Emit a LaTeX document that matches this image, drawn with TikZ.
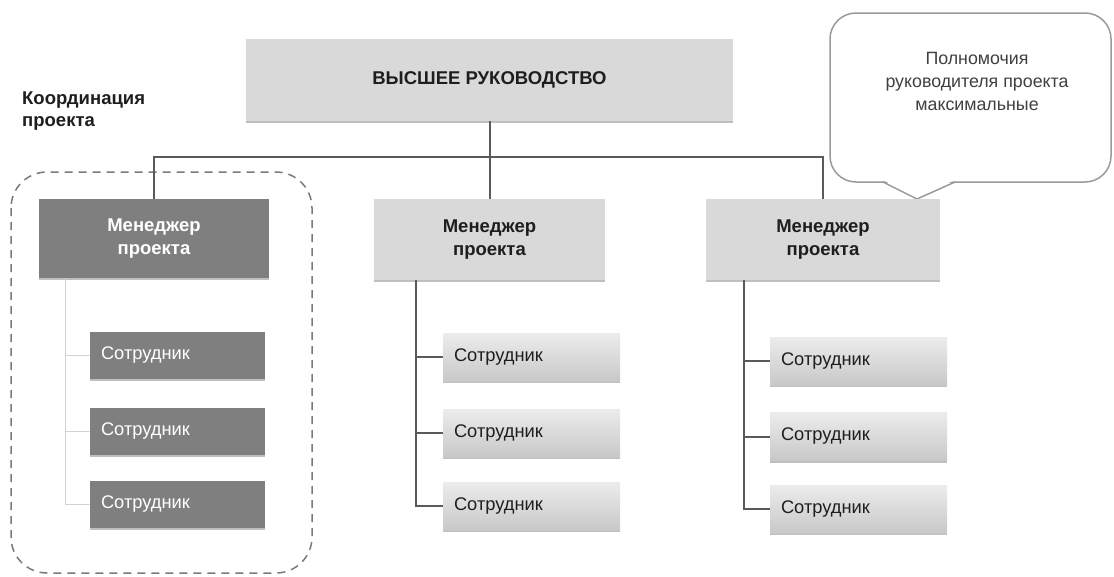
\documentclass[tikz,border=0pt]{standalone}
\usepackage{fontspec}
\setmainfont{Liberation Sans}
\usetikzlibrary{shadows}
\definecolor{boxgray}{HTML}{D9D9D9}
\definecolor{darkbox}{HTML}{7F7F7F}
\definecolor{linegray}{HTML}{5A5A5A}
\definecolor{lightline}{HTML}{D3D3D3}
\definecolor{txt}{HTML}{1E1E1E}
\definecolor{gradtop}{HTML}{ECECEC}
\definecolor{gradbot}{HTML}{C8C8C8}
\definecolor{dashgray}{HTML}{7A7A7A}
\definecolor{callgray}{HTML}{9A9A9A}
\begin{document}
\begin{tikzpicture}[x=1pt,y=-1pt,
  shadowed/.style={drop shadow={shadow xshift=0pt,shadow yshift=-2pt,opacity=0.25,fill=black}},
  topbox/.style={rectangle,inner sep=0pt,fill=boxgray,shadowed,text=txt,
    font=\fontsize{18.5}{23}\selectfont\bfseries,align=center},
  lightmgr/.style={topbox},
  darkmgr/.style={topbox,fill=darkbox,text=white},
  darkemp/.style={rectangle,inner xsep=11pt,inner ysep=0pt,fill=darkbox,shadowed,text=white,
    font=\fontsize{18.3}{22}\selectfont,align=left,minimum height=47pt,text width=153pt},
  lightemp/.style={rectangle,inner xsep=11pt,inner ysep=0pt,top color=gradtop,bottom color=gradbot,
    shadowed,text=txt,font=\fontsize{18.3}{22}\selectfont,align=left,minimum height=48pt,text width=155pt},
  conn/.style={draw=linegray,line width=2pt},
  lconn/.style={draw=lightline,line width=1pt}
]
\useasboundingbox (0,0) rectangle (1114,576);

% dashed coordination frame
\draw[dashgray,line width=1.5pt,dash pattern=on 8pt off 6pt,rounded corners=36pt]
  (11,172) rectangle (312,573);

\node[anchor=west,align=left,inner sep=0pt,text=txt,font=\fontsize{18.5}{22}\selectfont\bfseries]
  (coord) at (22,111) {Координация\\проекта};

% callout
\draw[callgray,line width=1.5pt,fill=white,rounded corners=26pt] (830,13) rectangle (1111,182);
\fill[white] (883,180) -- (955,180) -- (917,198) -- cycle;
\draw[callgray,line width=1.5pt,line join=round] (883,182) -- (917,199) -- (955,182);
\node[align=center,text=txt!85,font=\fontsize{17.8}{23}\selectfont] (calltext) at (977,81)
  {Полномочия\\руководителя проекта\\максимальные};

% boxes
\node[topbox,minimum width=487pt,minimum height=82pt] (top) at (489.5,80) {ВЫСШЕЕ РУКОВОДСТВО};
\node[darkmgr,minimum width=230pt,minimum height=79pt] (m1) at (154,238.5) {Менеджер\\проекта};
\node[lightmgr,minimum width=231pt,minimum height=81pt] (m2) at (489.5,239.5) {Менеджер\\проекта};
\node[lightmgr,minimum width=234pt,minimum height=81pt] (m3) at (823,239.5) {Менеджер\\проекта};

\node[darkemp] (e11) at (177.5,355.5) {Сотрудник};
\node[darkemp] (e12) at (177.5,431) {Сотрудник};
\node[darkemp] (e13) at (177.5,504.5) {Сотрудник};

\node[lightemp] (e21) at (531.5,357) {Сотрудник};
\node[lightemp] (e22) at (531.5,433) {Сотрудник};
\node[lightemp] (e23) at (531.5,506) {Сотрудник};

\node[lightemp] (e31) at (858.5,361) {Сотрудник};
\node[lightemp] (e32) at (858.5,436.5) {Сотрудник};
\node[lightemp] (e33) at (858.5,509) {Сотрудник};

% connectors
\coordinate (bus) at (489.5,157);
\draw[conn] (top.south) -- (m2.north);
\draw[conn] (m1.north) |- (bus) -| (m3.north);

\coordinate (t1) at (65,278);
\coordinate (t2) at (416,280);
\coordinate (t3) at (744,280);
\draw[lconn] (t1) |- (e11.west);
\draw[lconn] (t1) |- (e12.west);
\draw[lconn] (t1) |- (e13.west);
\draw[conn] (t2) |- (e21.west);
\draw[conn] (t2) |- (e22.west);
\draw[conn] (t2) |- (e23.west);
\draw[conn] (t3) |- (e31.west);
\draw[conn] (t3) |- (e32.west);
\draw[conn] (t3) |- (e33.west);
\end{tikzpicture}
\end{document}
